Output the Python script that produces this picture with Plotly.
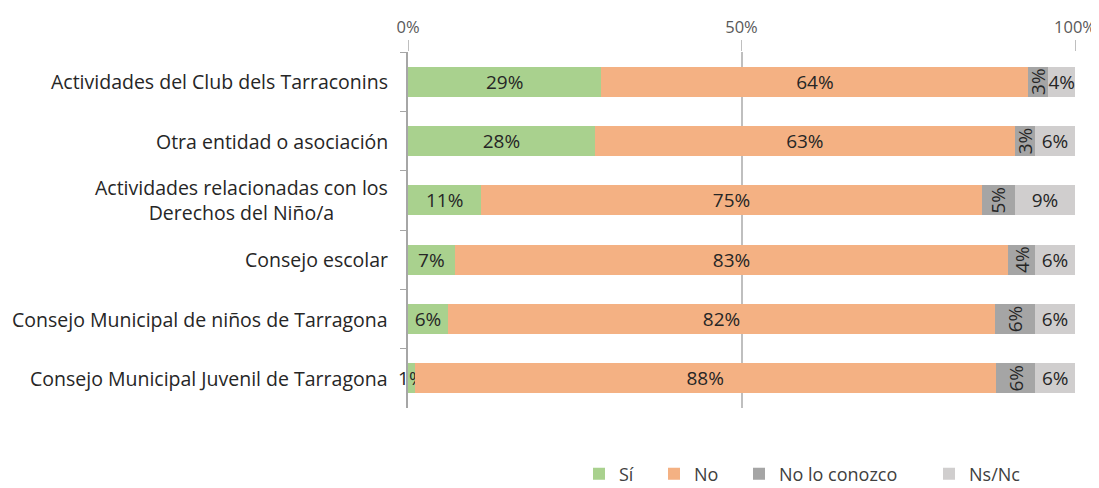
import plotly.graph_objects as go

categories = [
    "Actividades del Club dels Tarraconins",
    "Otra entidad o asociación",
    "Actividades relacionadas con los<br>Derechos del Niño/a",
    "Consejo escolar",
    "Consejo Municipal de niños de Tarragona",
    "Consejo Municipal Juvenil de Tarragona",
]
si = [29, 28, 11, 7, 6, 1]
no = [64, 63, 75, 83, 82, 88]
no_conozco = [3, 3, 5, 4, 6, 6]
ns_nc = [4, 6, 9, 6, 6, 6]
x_ticks = [0, 50, 100]
x_tick_labels = ["0%", "50%", "100%"]

series = [
    ("Sí", si, "#A9D18E", 0),
    ("No", no, "#F4B183", 0),
    ("No lo conozco", no_conozco, "#A5A5A5", -90),
    ("Ns/Nc", ns_nc, "#D0CECE", 0),
]
FONT = "Open Sans"
# page body has an 8px margin, so the figure is sized/placed to compensate
W, H = 1091, 480
ML, MR, MT, MB = 400, 24, 44, 80
legend_px = [571, 646, 731, 921]  # left x pixel of each legend entry (figure coords)
legend_y_px = 466

fig = go.Figure()
legend_ids = ["legend", "legend2", "legend3", "legend4"]
for (name, vals, color, ang), lid in zip(series, legend_ids):
    fig.add_trace(go.Bar(
        name=name, y=categories, x=vals, orientation="h",
        marker=dict(color=color, line=dict(width=0)),
        text=[f"{v}%" for v in vals], textposition="inside",
        insidetextanchor="middle", textangle=ang,
        textfont=dict(size=19, color="#262626", family=FONT),
        cliponaxis=False, constraintext="none", legend=lid,
    ))

pw = W - ML - MR
ph = H - MT - MB
leg_layout = {}
for lid, px in zip(legend_ids, legend_px):
    leg_layout[lid] = dict(
        orientation="h", x=(px - ML) / pw, xanchor="left",
        y=-(legend_y_px - (H - MB)) / ph, yanchor="middle",
        font=dict(size=18, color="#404040", family=FONT),
        itemwidth=30, bgcolor="rgba(0,0,0,0)", borderwidth=0,
    )

fig.update_layout(
    barmode="stack", barnorm="percent", bargap=0.49,
    width=W, height=H,
    margin=dict(l=ML, r=MR, t=MT, b=MB, autoexpand=False),
    paper_bgcolor="white", plot_bgcolor="white",
    font=dict(family=FONT, size=15, color="#404040"),
    uniformtext=dict(minsize=19, mode="show"),
    showlegend=True,
    **leg_layout,
)
for cat in categories:
    fig.add_annotation(
        x=0, xref="paper", y=cat, yref="y", xanchor="right", xshift=-18,
        text=cat, showarrow=False, align="center",
        font=dict(size=19.5, color="#262626", family=FONT),
    )
fig.update_xaxes(
    side="top", range=[0, 100], tickvals=x_ticks, ticktext=x_tick_labels,
    showgrid=True, gridcolor="#BFBFBF", gridwidth=1.5,
    ticks="outside", ticklen=11, tickcolor="#BFBFBF",
    tickfont=dict(size=16.5, color="#595959"), showline=False, zeroline=False,
    automargin=False,
)
fig.update_yaxes(
    autorange="reversed", showline=True, linecolor="#A6A6A6", linewidth=1.5,
    ticks="outside", tickson="boundaries", ticklen=6, tickcolor="#A6A6A6",
    showticklabels=False, automargin=False,
)
fig.write_html("out.html")
